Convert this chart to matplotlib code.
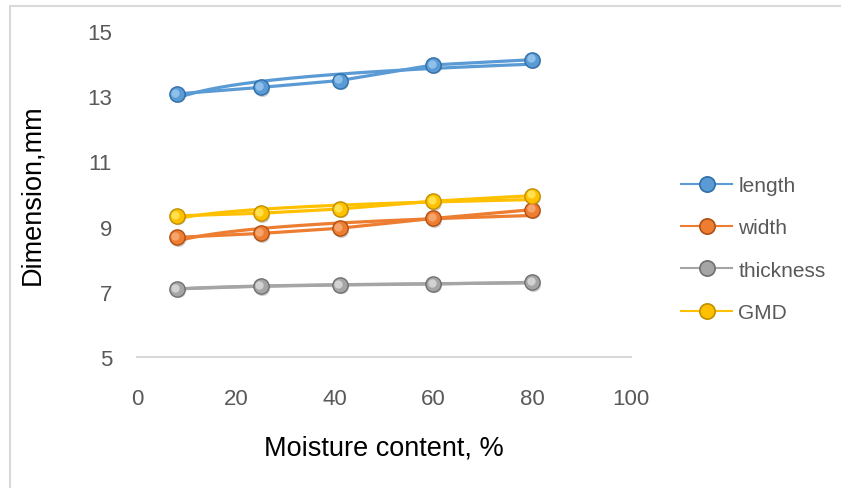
import numpy as np
import matplotlib
matplotlib.use("Agg")
import matplotlib.pyplot as plt
import matplotlib.transforms as mtransforms
from matplotlib.patches import Rectangle
from matplotlib.lines import Line2D

moisture = [8, 25, 41, 60, 80]
length = [13.07, 13.27, 13.48, 13.96, 14.12]
width = [8.67, 8.79, 8.95, 9.25, 9.52]
thickness = [7.09, 7.17, 7.21, 7.24, 7.29]
gmd = [9.33, 9.41, 9.54, 9.78, 9.95]
series_names = ["length", "width", "thickness", "GMD"]
colors = ["#5B9BD5", "#ED7D31", "#A5A5A5", "#FFC000"]
edge_colors = ["#2F6EA8", "#B04F14", "#6F6F6F", "#C08F00"]
light_colors = ["#8EC0EA", "#F5A46B", "#D2D2D2", "#FFE04D"]
xticks = [0, 20, 40, 60, 80, 100]
yticks = [5, 7, 9, 11, 13, 15]

plt.rcParams['font.family'] = ['Liberation Sans', 'DejaVu Sans']
fig = plt.figure(figsize=(8.41, 4.89), dpi=100)
ax = fig.add_axes([137/841, 1-358/489, (631-137)/841, (358-32)/489])

hl_offset = mtransforms.ScaledTranslation(-1.2/100, 1.2/100, fig.dpi_scale_trans)
sh_offset = mtransforms.ScaledTranslation(1.0/100, -1.5/100, fig.dpi_scale_trans)

handles = []
for name, ys, c, ec, lc in zip(series_names, [length, width, thickness, gmd],
                               colors, edge_colors, light_colors):
    x = np.array(moisture, float)
    y = np.array(ys, float)
    # logarithmic trendline fitted to the data
    coef = np.polyfit(np.log(x), y, 1)
    xs = np.linspace(x.min(), x.max(), 200)
    ax.plot(xs, np.polyval(coef, np.log(xs)), color=c, lw=2.3, zorder=2,
            solid_capstyle='round')
    ax.plot(x, y, color=c, lw=2.3, zorder=3)
    ax.plot(x, y, ls='none', marker='o', ms=11, mfc='#00000030', mec='none', zorder=3.5,
            transform=ax.transData + sh_offset)
    ax.plot(x, y, ls='none', marker='o', ms=12, mfc=ec, mec='none', zorder=4)
    ax.plot(x, y, ls='none', marker='o', ms=10, mfc=c, mec='none', zorder=5)
    ax.plot(x, y, ls='none', marker='o', ms=6, mfc=lc, mec='none', zorder=6,
            transform=ax.transData + hl_offset)
    h = Line2D([], [], color=c, lw=1.5, marker='o', ms=11, mfc=c, mec=ec, mew=1.2)
    handles.append(h)

ax.set_xlim(0, 100)
ax.set_ylim(5, 15)
ax.set_xticks(xticks)
ax.set_yticks(yticks)
for s in ['top', 'right', 'left']:
    ax.spines[s].set_visible(False)
ax.spines['bottom'].set_color('#D9D9D9')
ax.spines['bottom'].set_linewidth(1.5)
ax.tick_params(axis='both', length=0, labelsize=16, colors='#595959')
ax.tick_params(axis='x', pad=22)
ax.tick_params(axis='y', pad=18)
ax.set_xlabel("Moisture content, %", fontsize=19.5, color='black', labelpad=19)
ax.set_ylabel("Dimension,mm", fontsize=19.5, color='black', labelpad=30)

leg = fig.legend(handles=handles, labels=series_names, loc='upper left',
                 bbox_to_anchor=(681/841, 1-177/489), frameon=False,
                 fontsize=15, labelspacing=1.12, handlelength=2.45,
                 handletextpad=0.3, borderaxespad=0, borderpad=0)
for t in leg.get_texts():
    t.set_color('#595959')

fig.patches.append(Rectangle((9.5/841, -0.1), 1.0, 1.1 - 6.5/489, transform=fig.transFigure,
                             fill=False, edgecolor='#D9D9D9', lw=1.5))

fig.savefig("out.png", dpi=100)
